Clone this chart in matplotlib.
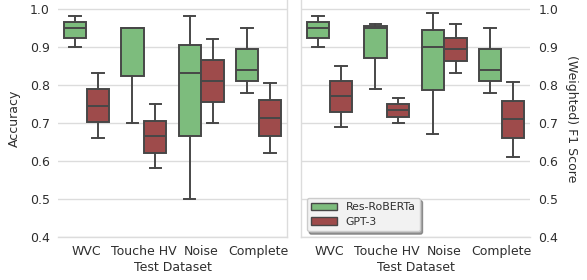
import matplotlib
matplotlib.use("Agg")
import matplotlib.pyplot as plt
from matplotlib.patches import Patch
import numpy as np

categories = ["WVC", "Touche HV", "Noise", "Complete"]
models = ["Res-RoBERTa", "GPT-3"]

# Accuracy: [whislo, q1, med, q3, whishi] per category
acc_roberta = [[0.90, 0.925, 0.95, 0.965, 0.982],
               [0.70, 0.825, 0.95, 0.95, 0.95],
               [0.50, 0.666, 0.831, 0.906, 0.982],
               [0.78, 0.811, 0.84, 0.894, 0.95]]
acc_gpt3 = [[0.66, 0.702, 0.746, 0.789, 0.832],
            [0.581, 0.622, 0.666, 0.706, 0.749],
            [0.70, 0.755, 0.811, 0.865, 0.92],
            [0.62, 0.667, 0.712, 0.76, 0.804]]
# Weighted F1
f1_roberta = [[0.90, 0.925, 0.95, 0.965, 0.982],
              [0.79, 0.872, 0.95, 0.956, 0.961],
              [0.672, 0.786, 0.90, 0.945, 0.99],
              [0.78, 0.811, 0.84, 0.894, 0.95]]
f1_gpt3 = [[0.69, 0.73, 0.772, 0.81, 0.85],
           [0.70, 0.717, 0.734, 0.749, 0.765],
           [0.831, 0.863, 0.895, 0.925, 0.96],
           [0.611, 0.661, 0.71, 0.758, 0.807]]

green = "#7dbc7d"
red = "#9e4b4b"
edge = "#474747"
grid_c = "#dcdcdc"
text_c = "#2e2e2e"

plt.rcParams["font.family"] = ["DejaVu Sans"]
fig = plt.figure(figsize=(5.87, 2.8), dpi=100)
W, H = 587, 280
ax1 = fig.add_axes([58 / W, 1 - 237 / H, 229 / W, 237 / H])
ax2 = fig.add_axes([301 / W, 1 - 237 / H, 229 / W, 237 / H])


def stats(vals):
    out = []
    for lo, q1, med, q3, hi in vals:
        out.append(dict(whislo=lo, q1=q1, med=med, q3=q3, whishi=hi, fliers=[]))
    return out


def draw(ax, a, b):
    pos = np.arange(len(categories))
    for vals, off, col in [(a, -0.2, green), (b, 0.2, red)]:
        ax.bxp(stats(vals), positions=pos + off, widths=0.39, patch_artist=True,
               showfliers=False,
               boxprops=dict(facecolor=col, edgecolor=edge, linewidth=1.4),
               medianprops=dict(color=edge, linewidth=1.4),
               whiskerprops=dict(color=edge, linewidth=1.4),
               capprops=dict(color=edge, linewidth=1.4),
               capwidths=0.2)
    ax.set_xlim(-0.5, len(categories) - 0.5)
    ax.set_ylim(0.4, 1.0237)
    ax.set_yticks([0.4, 0.5, 0.6, 0.7, 0.8, 0.9, 1.0])
    ax.set_yticklabels(["0.4", "0.5", "0.6", "0.7", "0.8", "0.9", "1.0"])
    ax.set_xticks(pos)
    ax.set_xticklabels(categories)
    ax.yaxis.grid(True, color=grid_c, linewidth=1.0)
    ax.set_axisbelow(True)
    ax.tick_params(axis="both", length=0, labelsize=9, colors=text_c, pad=6)
    ax.set_xlabel("Test Dataset", fontsize=9, color=text_c, labelpad=2)
    for s in ax.spines.values():
        s.set_color(grid_c)
        s.set_linewidth(1.0)
    ax.spines["top"].set_visible(False)


draw(ax1, acc_roberta, acc_gpt3)
draw(ax2, f1_roberta, f1_gpt3)

ax1.spines["left"].set_visible(False)
ax1.set_ylabel("Accuracy", fontsize=9, color=text_c, labelpad=6)

ax2.spines["right"].set_visible(False)
ax2.yaxis.tick_right()
ax2.yaxis.set_label_position("right")
ax2.set_ylabel("(Weighted) F1 Score", fontsize=9, color=text_c, rotation=270, labelpad=14)

handles = [Patch(facecolor=green, edgecolor=edge, linewidth=1.0, label=models[0]),
           Patch(facecolor=red, edgecolor=edge, linewidth=1.0, label=models[1])]
leg = ax2.legend(handles=handles, loc="lower left", fontsize=7.8, frameon=True,
                 shadow=True, fancybox=True, facecolor="#f2f2f2", edgecolor="#cccccc",
                 framealpha=1.0, bbox_to_anchor=(0.01, 0.01), borderaxespad=0.3,
                 handlelength=2.4, handleheight=0.7, labelspacing=0.45)
for t in leg.get_texts():
    t.set_color(text_c)

fig.savefig("out.png", dpi=100)
